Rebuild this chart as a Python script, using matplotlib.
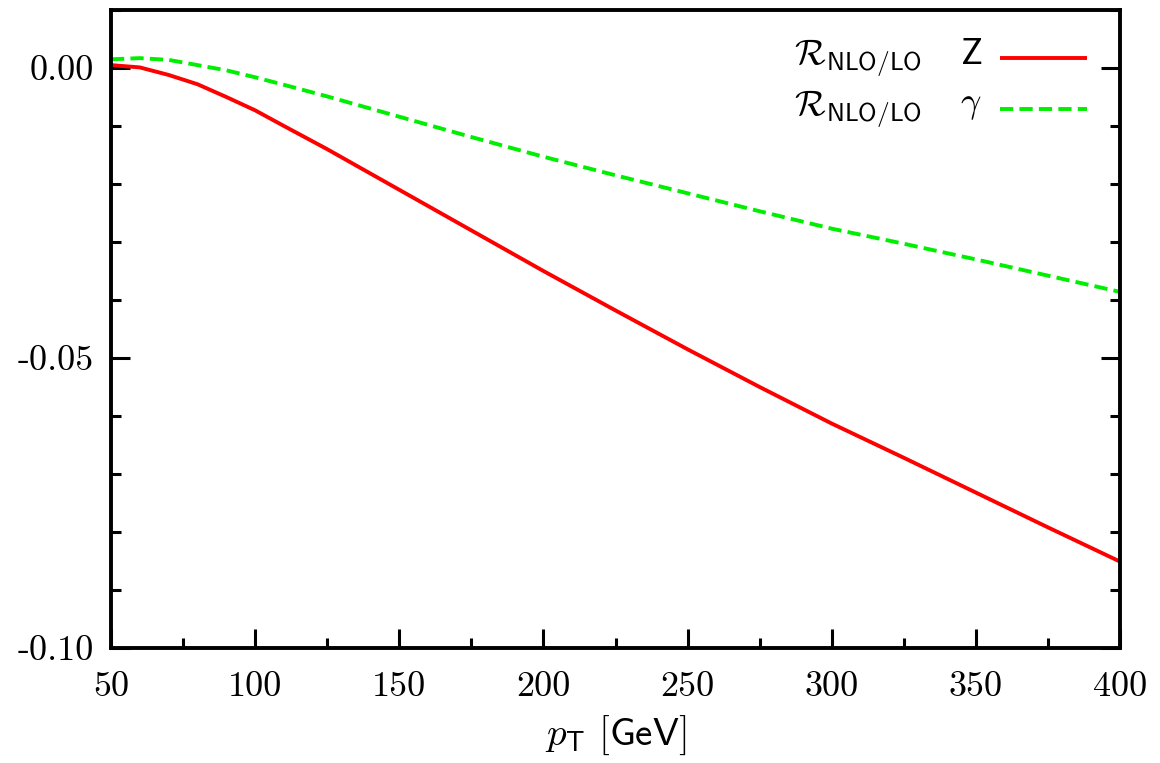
import matplotlib
matplotlib.use("Agg")
import matplotlib.pyplot as plt
from matplotlib.ticker import MultipleLocator, FixedLocator

plt.rcParams['mathtext.fontset'] = 'cm'

# transverse momentum grid [GeV]
pt_z = [50, 60, 70, 80, 90, 100, 110, 125, 150, 175, 200, 225, 250, 275, 300, 325, 350, 375, 400]
# NLO/LO ratio correction for Z production
r_z = [0.0005, 0.0001, -0.0012, -0.0028, -0.0050, -0.0073, -0.0100, -0.0140, -0.0210, -0.0280,
       -0.0350, -0.0418, -0.0485, -0.0550, -0.0613, -0.0672, -0.0732, -0.0792, -0.0851]

pt_g = [50, 60, 70, 80, 90, 100, 110, 125, 150, 175, 200, 225, 250, 275, 300, 325, 350, 375, 400]
# NLO/LO ratio correction for photon production
r_g = [0.0015, 0.0017, 0.0014, 0.0005, -0.0004, -0.0016, -0.0029, -0.0049, -0.0084, -0.0119,
       -0.0153, -0.0185, -0.0216, -0.0247, -0.0277, -0.0303, -0.0330, -0.0358, -0.0386]

x_ticks = [50, 100, 150, 200, 250, 300, 350, 400]
y_ticks = [-0.10, -0.05, 0.00]
y_tick_labels = ["-0.10", "-0.05", "0.00"]

fig = plt.figure(figsize=(11.6, 7.63), dpi=100)
ax = fig.add_axes([111 / 1160, 1 - 648 / 763, 1009 / 1160, 638 / 763])

ax.plot(pt_z, r_z, color='#ff0000', lw=2.8, solid_capstyle='butt')
ax.plot(pt_g, r_g, color='#00ee00', lw=2.8, dashes=(3.4, 1.6))

ax.set_xlim(50, 400)
ax.set_ylim(-0.10, 0.01)

ax.xaxis.set_major_locator(FixedLocator(x_ticks))
ax.xaxis.set_minor_locator(MultipleLocator(25))
ax.yaxis.set_major_locator(FixedLocator(y_ticks))
ax.yaxis.set_minor_locator(MultipleLocator(0.01))
ax.set_xticklabels([str(v) for v in x_ticks], family='cmr10', fontsize=26)
ax.set_yticklabels(y_tick_labels, family='cmr10', fontsize=26)

ax.tick_params(which='both', direction='in', width=2.2, top=False, right=True)
ax.tick_params(which='major', length=14)
ax.tick_params(which='minor', length=7)
ax.tick_params(axis='x', which='major', pad=17)
ax.tick_params(axis='y', which='major', pad=12)
for s in ax.spines.values():
    s.set_linewidth(2.8)

ax.set_xlabel(r"$p_{\mathsf{T}}\ [\mathsf{GeV}]$", fontsize=28)
ax.xaxis.set_label_coords(0.5, (648 - 714) / 638)

# key: right-justified text followed by a line sample
key = [(r"$\mathsf{Z}$", dict(color='#ff0000', lw=2.8, solid_capstyle='butt')),
       (r"$\gamma$", dict(color='#00ee00', lw=2.8, dashes=(3.4, 1.6)))]
rows_y = [0.9248, 0.845]
for (lab, style), yy in zip(key, rows_y):
    ax.text(0.804, yy, r"$\mathcal{R}_{\mathsf{NLO/LO}}$", transform=ax.transAxes,
            ha='right', va='center', fontsize=26)
    ax.text(0.863, yy + 0.006, lab, transform=ax.transAxes, ha='right', va='center', fontsize=26)
    ax.plot([0.881, 0.967], [yy, yy], transform=ax.transAxes, clip_on=False, **style)

fig.savefig("out.png", dpi=100)
